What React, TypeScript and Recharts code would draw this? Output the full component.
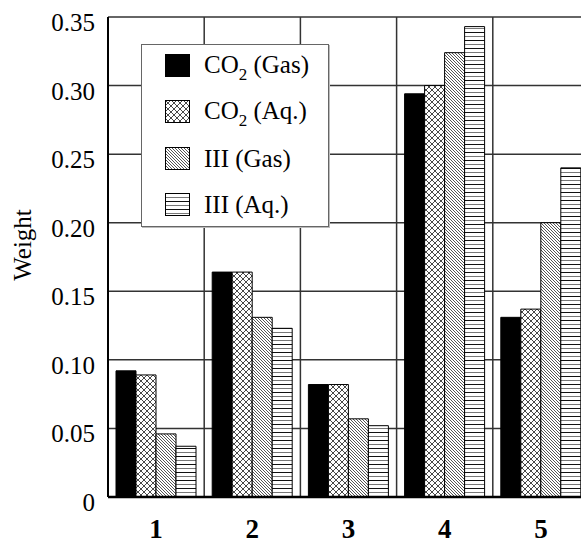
import { Bar, BarChart, CartesianGrid, XAxis, YAxis } from "recharts";

const categories = ["1", "2", "3", "4", "5"];
const co2Gas = [0.092, 0.164, 0.082, 0.294, 0.131];
const co2Aq = [0.089, 0.164, 0.082, 0.3, 0.137];
const iiiGas = [0.046, 0.131, 0.057, 0.324, 0.2];
const iiiAq = [0.037, 0.123, 0.052, 0.343, 0.24];
const yTicks = [0, 0.05, 0.1, 0.15, 0.2, 0.25, 0.3, 0.35];

const series = [
  { key: "co2Gas", fill: "#000", label: "CO", sub: "2", rest: " (Gas)" },
  { key: "co2Aq", fill: "url(#crossHatch)", label: "CO", sub: "2", rest: " (Aq.)" },
  { key: "iiiGas", fill: "url(#diagHatch)", label: "III (Gas)", sub: "", rest: "" },
  { key: "iiiAq", fill: "url(#horizHatch)", label: "III (Aq.)", sub: "", rest: "" }
];

const data = categories.map((name, i) => ({
  name,
  co2Gas: co2Gas[i],
  co2Aq: co2Aq[i],
  iiiGas: iiiGas[i],
  iiiAq: iiiAq[i]
}));

const font = "Liberation Serif, Times New Roman, serif";

function Patterns() {
  return (
    <svg width={0} height={0} style={{ position: "absolute" }}>
      <defs>
        <pattern id="crossHatch" width={6} height={6} patternUnits="userSpaceOnUse">
          <rect width={6} height={6} fill="#fff" />
          <path d="M0,0 L6,6 M6,0 L0,6" stroke="#333" strokeWidth={0.9} />
        </pattern>
        <pattern id="diagHatch" width={3} height={3} patternUnits="userSpaceOnUse">
          <rect width={3} height={3} fill="#fff" />
          <path d="M0,0 L3,3 M-1,2 L1,4 M2,-1 L4,1" stroke="#555" strokeWidth={1} />
        </pattern>
        <pattern id="horizHatch" width={4} height={8} patternUnits="userSpaceOnUse">
          <rect width={4} height={8} fill="#fff" />
          <path d="M0,0.5 L4,0.5" stroke="#111" strokeWidth={1} />
          <path d="M0,4.5 L4,4.5" stroke="#777" strokeWidth={1} />
        </pattern>
      </defs>
    </svg>
  );
}

function XTick({ x, y, payload }: any) {
  return (
    <text x={x} y={y + 37} textAnchor="middle" fontFamily={font} fontSize={27} fontWeight="bold" fill="#000">
      {payload.value}
    </text>
  );
}

function YTick({ x, y, payload }: any) {
  const v = payload.value as number;
  return (
    <text x={x} y={y + 14} textAnchor="end" fontFamily={font} fontSize={25} fill="#000">
      {v === 0 ? "0" : v.toFixed(2)}
    </text>
  );
}

function YLabel() {
  return (
    <text x={31} y={245} transform="rotate(-90 31 245)" textAnchor="middle" fontFamily={font} fontSize={25} fill="#000">
      Weight
    </text>
  );
}

function LegendBox() {
  return (
    <div
      style={{
        position: "absolute",
        left: 141,
        top: 44,
        width: 186,
        height: 181,
        border: "1px solid #666",
        boxShadow: "1px 1px 0 #bbb",
        background: "#fff",
        fontSize: 25,
        color: "#000"
      }}
    >
      {series.map((s, i) => (
        <div
          key={s.key}
          style={{
            position: "absolute",
            left: 23,
            top: 9 + i * 46.3,
            height: 23,
            display: "flex",
            alignItems: "center",
            whiteSpace: "nowrap"
          }}
        >
          <svg width={25} height={23} style={{ display: "block" }}>
            <rect x={0.5} y={0.5} width={24} height={22} fill={s.fill} stroke="#000" strokeWidth={1} />
          </svg>
          <span style={{ marginLeft: 14, lineHeight: "23px" }}>
            {s.label}
            {s.sub && <span style={{ fontSize: 17, position: "relative", top: 7 }}>{s.sub}</span>}
            {s.rest}
          </span>
        </div>
      ))}
    </div>
  );
}

export default function App() {
  return (
    <div
      style={{
        position: "fixed",
        left: 0,
        top: 0,
        width: 581,
        height: 544,
        overflow: "hidden",
        background: "#fff",
        fontFamily: font
      }}
    >
      <Patterns />
      <BarChart
        width={600}
        height={544}
        data={data}
        margin={{ top: 17, right: 11, left: 0, bottom: 0 }}
        barGap={0}
        barSize={20}
      >
        <CartesianGrid
          stroke="#333"
          strokeWidth={1.5}
          verticalCoordinatesGenerator={({ offset }: any) =>
            [1, 2, 3, 4].map((i) => offset.left + (i * offset.width) / 5)
          }
        />
        <XAxis
          dataKey="name"
          height={47}
          tickLine={false}
          tickSize={0}
          tickMargin={4}
          axisLine={{ stroke: "#000", strokeWidth: 2.5 }}
          tick={<XTick />}
        />
        <YAxis
          width={108}
          domain={[0, 0.35]}
          ticks={yTicks}
          interval={0}
          tickLine={false}
          tickSize={0}
          tickMargin={13}
          axisLine={{ stroke: "#000", strokeWidth: 2 }}
          tick={<YTick />}
          label={{ content: () => <YLabel /> }}
        />
        {series.map((s) => (
          <Bar
            key={s.key}
            dataKey={s.key}
            fill={s.fill}
            stroke="#000"
            strokeWidth={1}
            isAnimationActive={false}
          />
        ))}
      </BarChart>
      <LegendBox />
    </div>
  );
}
